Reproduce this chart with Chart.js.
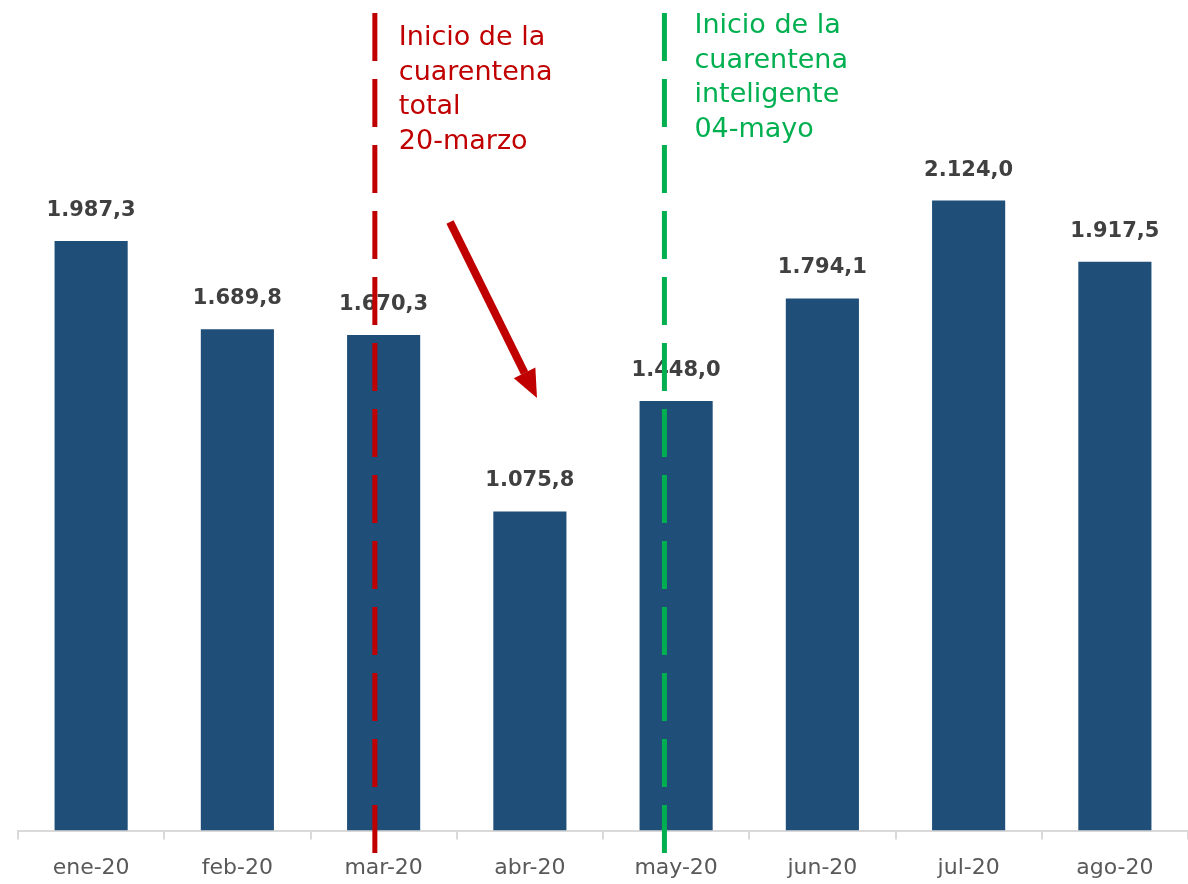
<!DOCTYPE html>
<html><head><meta charset="utf-8">
<script src="https://cdn.jsdelivr.net/npm/chart.js@4/dist/chart.umd.min.js"></script>
<style>html,body{margin:0;padding:0;background:#fff}#w{width:1188px;height:884px}</style>
</head><body><div id="w"><canvas id="c"></canvas></div>
<script>
const categories = ['ene-20','feb-20','mar-20','abr-20','may-20','jun-20','jul-20','ago-20'];
const values = [1987.3, 1689.8, 1670.3, 1075.8, 1448.0, 1794.1, 2124.0, 1917.5];
const redLines = ['Inicio de la','cuarentena','total','20-marzo'];
const greenLines = ['Inicio de la','cuarentena','inteligente','04-mayo'];
const redPos = 1.94;   // position on category axis (20 March)
const greenPos = 3.92; // position on category axis (04 May)

const FONT = '"DejaVu Sans", sans-serif';
function fmt(v){
  const s = v.toFixed(1).split('.');
  const i = s[0].replace(/\B(?=(\d{3})+(?!\d))/g,'.');
  return i + ',' + s[1];
}
const overlay = {
  id:'overlay',
  afterDatasetsDraw(chart){
    const ctx = chart.ctx, x = chart.scales.x, y = chart.scales.y;
    const meta = chart.getDatasetMeta(0);
    ctx.save();
    ctx.font = 'bold 21px ' + FONT;
    ctx.fillStyle = '#404040';
    ctx.textAlign = 'center';
    ctx.textBaseline = 'alphabetic';
    meta.data.forEach((b,i)=>{ ctx.fillText(fmt(values[i]), b.x, b.y - 25); });
    // dashed lines
    function vline(pos,color){
      const px = x.getPixelForValue(pos);
      ctx.beginPath();
      ctx.setLineDash([48,18]);
      ctx.lineWidth = 5;
      ctx.strokeStyle = color;
      ctx.moveTo(px, 13); ctx.lineTo(px, 858);
      ctx.stroke();
      ctx.setLineDash([]);
      return px;
    }
    const rx = vline(redPos,'#C00000');
    const gx = vline(greenPos,'#00B050');
    ctx.textAlign = 'left';
    ctx.font = '27px ' + FONT;
    ctx.fillStyle = '#C00000';
    redLines.forEach((t,i)=>ctx.fillText(t, rx + 24, 45 + i*34.5));
    ctx.fillStyle = '#00B050';
    greenLines.forEach((t,i)=>ctx.fillText(t, gx + 30, 33 + i*34.5));
    // arrow
    const x1=450,y1=222,x2=537,y2=398;
    const ang = Math.atan2(y2-y1,x2-x1);
    const hl = 28, hw = 12;
    const bx = x2 - hl*Math.cos(ang), by = y2 - hl*Math.sin(ang);
    ctx.strokeStyle = '#C00000'; ctx.fillStyle = '#C00000';
    ctx.lineWidth = 8;
    ctx.beginPath(); ctx.moveTo(x1,y1); ctx.lineTo(bx,by); ctx.stroke();
    ctx.beginPath();
    ctx.moveTo(x2,y2);
    ctx.lineTo(bx + hw*Math.sin(ang), by - hw*Math.cos(ang));
    ctx.lineTo(bx - hw*Math.sin(ang), by + hw*Math.cos(ang));
    ctx.closePath(); ctx.fill();
    ctx.restore();
  }
};
new Chart(document.getElementById('c'),{
  type:'bar',
  data:{labels:categories,datasets:[{data:values,backgroundColor:'#1F4E79',barPercentage:0.5,categoryPercentage:1}]},
  options:{
    responsive:true,maintainAspectRatio:false,animation:false,
    layout:{padding:{left:18,right:0,top:0,bottom:-12}},
    plugins:{legend:{display:false},tooltip:{enabled:false}},
    scales:{
      x:{grid:{display:true,drawOnChartArea:false,color:'#D9D9D9',tickLength:9,lineWidth:2},
         border:{color:'#D9D9D9',width:2},
         ticks:{color:'#595959',font:{family:FONT,size:22},padding:15}},
      y:{display:false,min:0,max:2800}
    }
  },
  plugins:[overlay]
});
</script></body></html>
